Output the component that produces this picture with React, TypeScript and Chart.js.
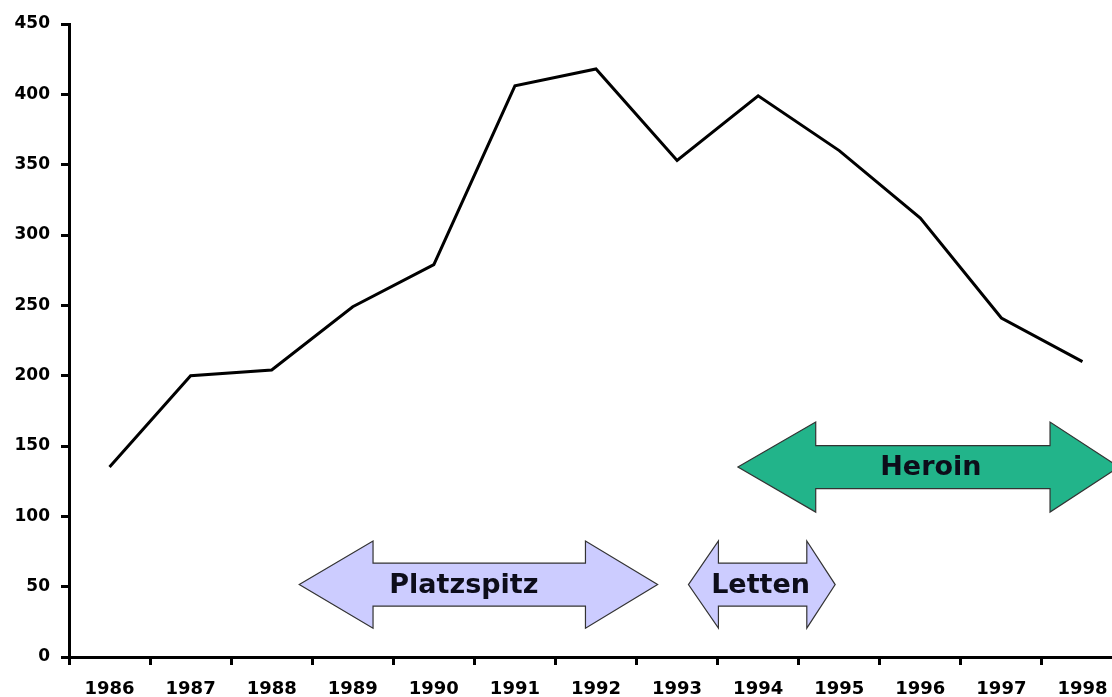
import React, { useEffect, useRef } from "react";
import { Chart, registerables } from "chart.js";

Chart.register(...registerables);

const years = ["1986", "1987", "1988", "1989", "1990", "1991", "1992", "1993", "1994", "1995", "1996", "1997", "1998"];
const values = [135, 200, 204, 249, 279, 406, 418, 353, 399, 360, 312, 241, 210];

// Arrow annotations, in category-index units (x) and value units (y)
const arrowLabels = ["Platzspitz", "Letten", "Heroin"];
const arrowTipLeft = [2.34, 7.14, 7.75];
const arrowHeadLeft = [3.25, 7.51, 8.71];
const arrowHeadRight = [5.87, 8.6, 11.6];
const arrowTipRight = [6.76, 8.95, 12.45];
const arrowCenter = [51.5, 51.5, 135];
const arrowHeadHalf = [31, 31, 32];
const arrowShaftHalf = [15.3, 15.3, 15.3];
const arrowLabelX = [4.37, 8.03, 10.13];
const arrowColors = ["#CCCCFF", "#CCCCFF", "#22B48A"];

const arrowPlugin = {
  id: "arrows",
  afterDatasetsDraw(chart: any) {
    const ctx = chart.ctx;
    const xs = chart.scales.x;
    const ys = chart.scales.y;
    ctx.save();
    for (let i = 0; i < arrowLabels.length; i++) {
      const x0 = xs.getPixelForValue(arrowTipLeft[i]);
      const x1 = xs.getPixelForValue(arrowHeadLeft[i]);
      const x2 = xs.getPixelForValue(arrowHeadRight[i]);
      const x3 = xs.getPixelForValue(arrowTipRight[i]);
      const yc = ys.getPixelForValue(arrowCenter[i]);
      const yHt = ys.getPixelForValue(arrowCenter[i] + arrowHeadHalf[i]);
      const yHb = ys.getPixelForValue(arrowCenter[i] - arrowHeadHalf[i]);
      const ySt = ys.getPixelForValue(arrowCenter[i] + arrowShaftHalf[i]);
      const ySb = ys.getPixelForValue(arrowCenter[i] - arrowShaftHalf[i]);
      ctx.beginPath();
      ctx.moveTo(x0, yc);
      ctx.lineTo(x1, yHt);
      ctx.lineTo(x1, ySt);
      ctx.lineTo(x2, ySt);
      ctx.lineTo(x2, yHt);
      ctx.lineTo(x3, yc);
      ctx.lineTo(x2, yHb);
      ctx.lineTo(x2, ySb);
      ctx.lineTo(x1, ySb);
      ctx.lineTo(x1, yHb);
      ctx.closePath();
      ctx.fillStyle = arrowColors[i];
      ctx.fill();
      ctx.lineWidth = 1.2;
      ctx.strokeStyle = "#333333";
      ctx.stroke();
      ctx.fillStyle = "#0d0d1a";
      ctx.font = "bold 27px 'DejaVu Sans'";
      ctx.textAlign = "center";
      ctx.textBaseline = "middle";
      ctx.fillText(arrowLabels[i], xs.getPixelForValue(arrowLabelX[i]), yc + 1);
    }
    ctx.restore();
  },
};

export default function App() {
  const ref = useRef<HTMLCanvasElement>(null);
  useEffect(() => {
    document.body.style.margin = "0";
    document.body.style.overflow = "hidden";
    const chart = new Chart(ref.current!, {
      type: "line",
      data: {
        labels: years,
        datasets: [
          {
            data: values,
            borderColor: "#000000",
            borderWidth: 3,
            pointRadius: 0,
            tension: 0,
            fill: false,
          },
        ],
      },
      options: {
        responsive: false,
        animation: false,
        layout: { padding: { top: 24, right: 0 } },
        plugins: { legend: { display: false }, tooltip: { enabled: false } },
        scales: {
          x: {
            type: "category",
            offset: true,
            afterFit: (s: any) => {
              s.height = 40;
            },
            grid: {
              offset: true,
              drawOnChartArea: false,
              drawTicks: true,
              tickLength: 8,
              color: "#000000",
              lineWidth: 3,
            },
            border: { display: true, color: "#000000", width: 3 },
            ticks: {
              autoSkip: false,
              maxRotation: 0,
              padding: 14,
              color: "#000000",
              font: { family: "'DejaVu Sans'", size: 18, weight: "bold" },
            },
          },
          y: {
            min: 0,
            max: 450,
            afterFit: (s: any) => {
              s.width = 69;
            },
            grid: {
              drawOnChartArea: false,
              drawTicks: true,
              tickLength: 8,
              color: "#000000",
              lineWidth: 3,
            },
            border: { display: true, color: "#000000", width: 3 },
            ticks: {
              stepSize: 50,
              padding: 11,
              color: "#000000",
              font: { family: "'DejaVu Sans'", size: 17, weight: "bold" },
            },
          },
        },
      },
      plugins: [arrowPlugin],
    } as any);
    return () => chart.destroy();
  }, []);
  return (
    <div style={{ position: "absolute", left: 0, top: 0, width: 1123, height: 697 }}>
      <canvas ref={ref} width={1123} height={697} />
    </div>
  );
}
